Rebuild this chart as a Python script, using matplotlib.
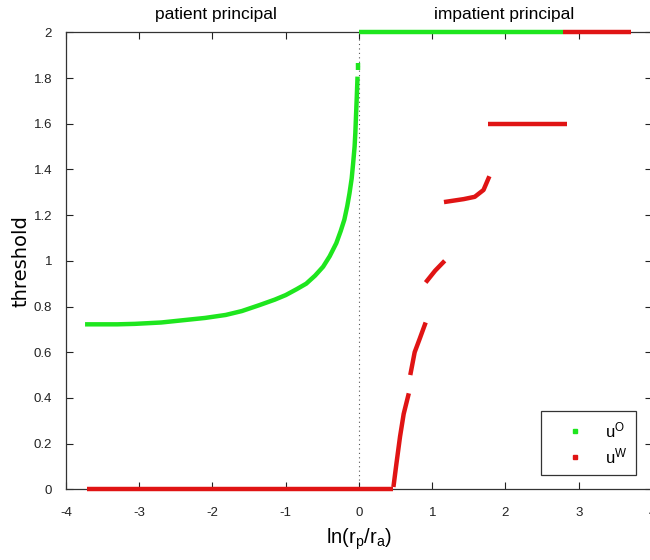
import matplotlib
matplotlib.use("Agg")
import matplotlib.pyplot as plt
from matplotlib.lines import Line2D

plt.rcParams['font.family'] = ['Liberation Sans', 'DejaVu Sans']
plt.rcParams['axes.unicode_minus'] = False
plt.rcParams['mathtext.fontset'] = 'custom'
plt.rcParams['mathtext.rm'] = 'Liberation Sans'

GREEN = '#1ee61e'
RED = '#e01414'

# u^O (green): curve for the patient principal, then flat at 2
green_curve_x = [-3.74, -3.3, -3.06, -2.7, -2.37, -2.1, -1.82, -1.6, -1.36, -1.15,
                 -1.0, -0.85, -0.72, -0.6, -0.49, -0.40, -0.31, -0.25, -0.20,
                 -0.16, -0.13, -0.10, -0.08, -0.06, -0.05, -0.04, -0.03, -0.02]
green_curve_y = [0.722, 0.722, 0.724, 0.730, 0.741, 0.750, 0.763, 0.780, 0.806, 0.83,
                 0.85, 0.876, 0.90, 0.935, 0.974, 1.02, 1.077, 1.13, 1.18,
                 1.24, 1.295, 1.36, 1.427, 1.50, 1.56, 1.64, 1.72, 1.806]
green_tip_x = [-0.01, -0.01]
green_tip_y = [1.835, 1.865]
green_top_x = [0.0, 2.79]
green_top_y = [2.0, 2.0]

# u^W (red): piecewise segments
red_segments = [
    ([-3.72, 0.47], [0.0, 0.0]),
    ([0.47, 0.51, 0.56, 0.61, 0.68], [0.01, 0.11, 0.23, 0.33, 0.42]),
    ([0.70, 0.76, 0.83, 0.91], [0.50, 0.60, 0.66, 0.73]),
    ([0.91, 1.04, 1.17], [0.905, 0.957, 1.0]),
    ([1.16, 1.43, 1.58, 1.70, 1.78], [1.257, 1.27, 1.28, 1.31, 1.37]),
    ([1.76, 2.84], [1.6, 1.6]),
    ([2.79, 3.72], [2.0, 2.0]),
]

x_ticks = [-4, -3, -2, -1, 0, 1, 2, 3, 4]
y_ticks = [0, 0.2, 0.4, 0.6, 0.8, 1, 1.2, 1.4, 1.6, 1.8, 2]
y_ticklabels = ['0', '0.2', '0.4', '0.6', '0.8', '1', '1.2', '1.4', '1.6', '1.8', '2']

fig = plt.figure(figsize=(6.5, 5.6), dpi=100)
ax = fig.add_axes([66 / 650, 1 - 489.3 / 560, 586 / 650, 457 / 560])

lw = 3.2
ax.axvline(0, color='#555555', ls=(0, (1, 3)), lw=0.8, zorder=1)

for xs, ys in [(green_curve_x, green_curve_y), (green_tip_x, green_tip_y),
               (green_top_x, green_top_y)]:
    ax.plot(xs, ys, color=GREEN, lw=lw, solid_capstyle='butt', clip_on=False, zorder=3)

for xs, ys in red_segments:
    ax.plot(xs, ys, color=RED, lw=lw, solid_capstyle='butt', clip_on=False, zorder=4)

ax.set_xlim(-4, 4)
ax.set_ylim(0, 2)
ax.set_xticks(x_ticks)
ax.set_xticklabels([str(v) for v in x_ticks])
ax.set_yticks(y_ticks)
ax.set_yticklabels(y_ticklabels)
ax.tick_params(direction='in', top=True, right=True, length=5, width=0.8,
               labelsize=9.5, colors='#222222')
ax.tick_params(axis='x', pad=13)
ax.tick_params(axis='y', pad=10)
for s in ax.spines.values():
    s.set_linewidth(0.9)
    s.set_color('#333333')

ax.set_ylabel('threshold', fontsize=14, family='DejaVu Sans', labelpad=2)
ax.set_xlabel(r'$\mathregular{ln(r_p/r_a)}$', fontsize=14.5, labelpad=5)

fig.text(216 / 650, 1 - 14 / 560, 'patient principal', ha='center', va='center', fontsize=12.5)
fig.text(504 / 650, 1 - 14 / 560, 'impatient principal', ha='center', va='center', fontsize=12.5)

handles = [Line2D([], [], ls='none', marker='s', ms=2.5, color=GREEN),
           Line2D([], [], ls='none', marker='s', ms=2.5, color=RED)]
leg = ax.legend(handles, [r'$\mathregular{u^O}$', r'$\mathregular{u^W}$'],
                loc='lower right', bbox_to_anchor=(0.973, 0.031), borderaxespad=0,
                fancybox=False, edgecolor='#333333', framealpha=1,
                handlelength=3.0, handletextpad=0.3, borderpad=0.55,
                labelspacing=0.35, fontsize=12)
leg.get_frame().set_linewidth(0.9)

fig.savefig('out.png', dpi=100)
